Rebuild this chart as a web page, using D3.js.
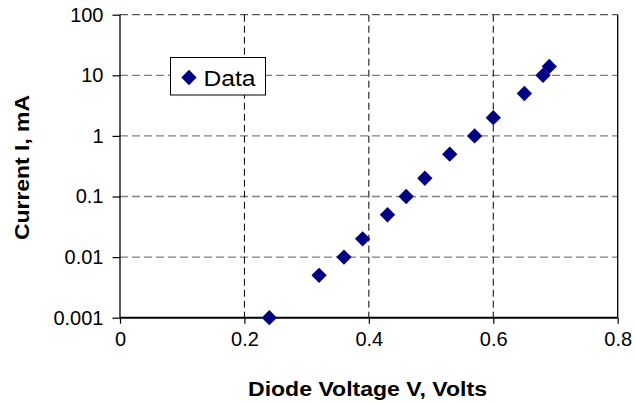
<!DOCTYPE html>
<html>
<head>
<meta charset="utf-8">
<script src="https://cdn.jsdelivr.net/npm/d3@7/dist/d3.min.js"></script>
<style>
  html, body { margin: 0; padding: 0; background: #fff; }
  svg { display: block; font-family: "Liberation Sans", Arial, sans-serif; }
</style>
</head>
<body>
<svg id="chart" width="634" height="402"></svg>
<script>
// Diode forward characteristic: voltage (V) vs current (mA)
const voltage = [0.24, 0.32, 0.36, 0.39, 0.43, 0.46, 0.49, 0.53, 0.57, 0.60, 0.65, 0.68, 0.69];
const current = [0.001, 0.005, 0.01, 0.02, 0.05, 0.1, 0.2, 0.5, 1, 2, 5, 10, 14];
const xTicks = [0, 0.2, 0.4, 0.6, 0.8];
const xTickLabels = ["0", "0.2", "0.4", "0.6", "0.8"];
const yTicks = [0.001, 0.01, 0.1, 1, 10, 100];
const yTickLabels = ["0.001", "0.01", "0.1", "1", "10", "100"];
const seriesName = "Data";

const svg = d3.select("#chart");
const plotLeft = 120, plotRight = 617.7, plotTop = 14.7, plotBottom = 317.7;

const x = d3.scaleLinear().domain([0, 0.8]).range([plotLeft, plotRight]);
const y = d3.scaleLog().domain([0.001, 100]).range([plotBottom, plotTop]);

const navy = "#000080";

// Horizontal gridlines (gray dashed)
svg.append("g").selectAll("line")
  .data(yTicks.slice(1))
  .join("line")
  .attr("x1", plotLeft).attr("x2", plotRight)
  .attr("y1", d => y(d)).attr("y2", d => y(d))
  .attr("stroke", d => d === 100 ? "#555" : "#808080")
  .attr("stroke-width", 1.3)
  .attr("stroke-dasharray", "8,4");

// Vertical gridlines (black dashed)
svg.append("g").selectAll("line")
  .data(xTicks.slice(1, -1))
  .join("line")
  .attr("x1", d => x(d)).attr("x2", d => x(d))
  .attr("y1", plotTop).attr("y2", plotBottom)
  .attr("stroke", "#000")
  .attr("stroke-width", 1)
  .attr("stroke-dasharray", "7,4");

// Right edge of plot
svg.append("line")
  .attr("x1", plotRight).attr("x2", plotRight)
  .attr("y1", plotTop).attr("y2", plotBottom)
  .attr("stroke", "#000").attr("stroke-width", 1.3);

// Y axis
const yAxis = d3.axisLeft(y)
  .tickValues(yTicks)
  .tickFormat((d, i) => yTickLabels[i])
  .tickSize(7.5).tickPadding(9);
const gy = svg.append("g").attr("transform", `translate(${plotLeft},0)`).call(yAxis);
gy.select(".domain").attr("stroke", "#000").attr("stroke-width", 1.3).attr("d", `M0,${plotTop}V${plotBottom}`);
gy.selectAll(".tick line").attr("stroke", "#000").attr("stroke-width", 1.2);
gy.selectAll(".tick text").attr("font-size", 20).attr("fill", "#000")
  .attr("font-family", "'Liberation Sans', Arial, sans-serif");

// X axis
const xAxis = d3.axisBottom(x)
  .tickValues(xTicks)
  .tickFormat((d, i) => xTickLabels[i])
  .tickSize(6).tickPadding(8);
const gx = svg.append("g").attr("transform", `translate(0,${plotBottom})`).call(xAxis);
gx.select(".domain").attr("stroke", "#000").attr("stroke-width", 2).attr("d", `M${plotLeft},0H${plotRight}`);
gx.selectAll(".tick line").attr("stroke", "#000").attr("stroke-width", 1.2);
gx.selectAll(".tick text").attr("font-size", 20).attr("fill", "#000")
  .attr("font-family", "'Liberation Sans', Arial, sans-serif");

// Data markers: diamonds
const diamond = d3.symbol().type(d3.symbolDiamond2).size(150);
const pts = voltage.map((v, i) => ({ v, c: current[i] }));
svg.append("g").selectAll("path")
  .data(pts)
  .join("path")
  .attr("transform", d => `translate(${x(d.v)},${y(d.c)})`)
  .attr("d", diamond)
  .attr("fill", navy);

// Legend
const lg = svg.append("g");
lg.append("rect")
  .attr("x", 170.5).attr("y", 57.5).attr("width", 95).attr("height", 37.5)
  .attr("fill", "#fff").attr("stroke", "#000").attr("stroke-width", 1);
lg.append("path")
  .attr("transform", "translate(189,77.5)")
  .attr("d", diamond)
  .attr("fill", navy);
lg.append("text")
  .attr("x", 203.5).attr("y", 86)
  .attr("font-size", 22)
  .attr("textLength", 52).attr("lengthAdjust", "spacingAndGlyphs")
  .attr("fill", "#000")
  .text(seriesName);

// Axis titles
svg.append("text")
  .attr("x", 248).attr("y", 396)
  .attr("font-size", 21).attr("font-weight", "bold")
  .attr("textLength", 239).attr("lengthAdjust", "spacingAndGlyphs")
  .text("Diode Voltage V, Volts");

svg.append("text")
  .attr("transform", "translate(29,240) rotate(-90)")
  .attr("font-size", 21).attr("font-weight", "bold")
  .attr("textLength", 145).attr("lengthAdjust", "spacingAndGlyphs")
  .text("Current I, mA");
</script>
</body>
</html>
